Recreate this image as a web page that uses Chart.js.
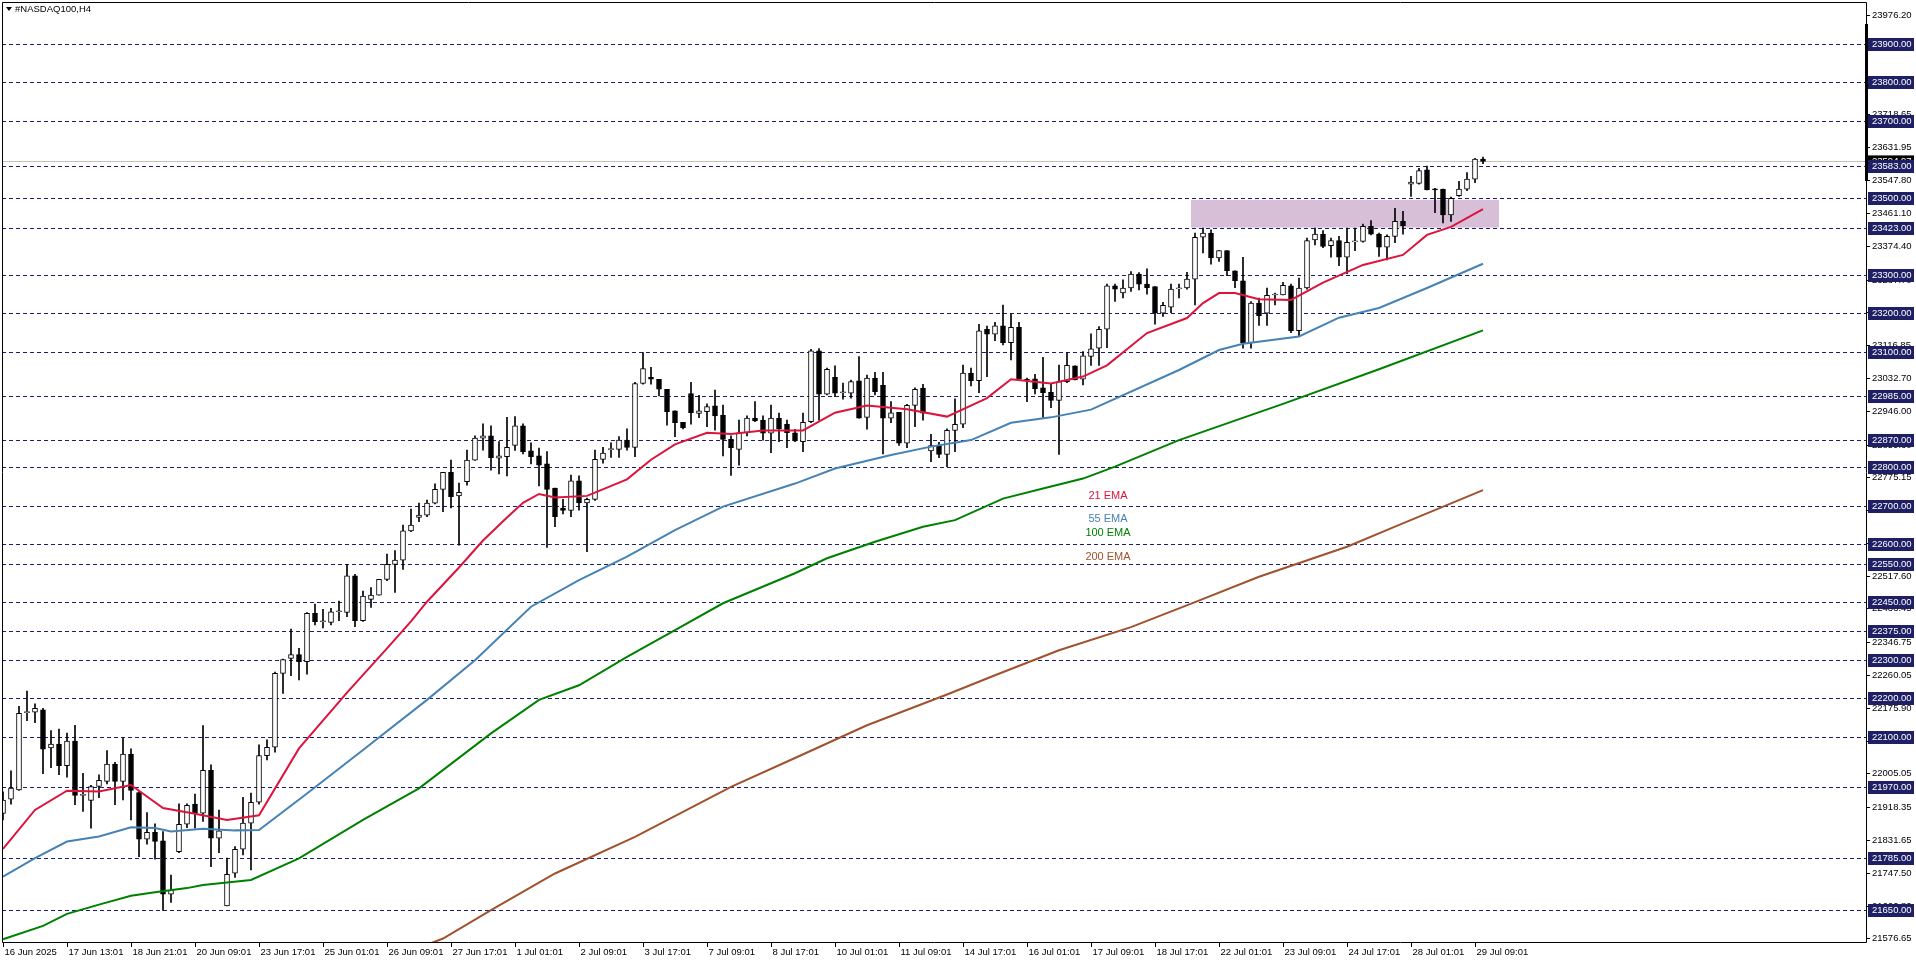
<!DOCTYPE html>
<html><head><meta charset="utf-8">
<script src="https://cdn.jsdelivr.net/npm/chart.js@4.4.1/dist/chart.umd.min.js"></script>
<style>html,body{margin:0;padding:0;background:#fff;overflow:hidden}canvas{display:block}</style>
</head><body>
<canvas id="c" width="1916" height="963" style="width:1916px;height:963px"></canvas>
<script>
// ---- DATA ----
const title = "#NASDAQ100,H4";
const tickLabels = ["16 Jun 2025","17 Jun 13:01","18 Jun 21:01","20 Jun 09:01","23 Jun 17:01","25 Jun 01:01","26 Jun 09:01","27 Jun 17:01","1 Jul 01:01","2 Jul 09:01","3 Jul 17:01","7 Jul 09:01","8 Jul 17:01","10 Jul 01:01","11 Jul 09:01","14 Jul 17:01","16 Jul 01:01","17 Jul 09:01","18 Jul 17:01","22 Jul 01:01","23 Jul 09:01","24 Jul 17:01","28 Jul 01:01","29 Jul 09:01"];
const barsPerLabel = 8;
const openP  = [21901,21938,21962,22163,22164,22170,22071,22081,22025,22089,21948,21935,21971,21984,22029,21984,22055,21955,21834,21852,21830,21691,21802,21873,21925,21902,22013,21837,21661,21746,21808,21876,21930,22051,22073,22265,22304,22314,22295,22421,22399,22397,22425,22423,22518,22402,22457,22468,22509,22548,22559,22635,22670,22676,22707,22743,22787,22726,22763,22819,22876,22882,22824,22828,22857,22908,22843,22830,22809,22746,22694,22688,22765,22708,22717,22821,22846,22847,22871,22852,23018,23034,23029,23003,22947,22917,22992,22940,22945,22960,22936,22873,22847,22890,22928,22923,22889,22928,22912,22890,22867,22919,23103,22990,23034,22994,22993,23025,22930,23032,23013,22928,22943,22863,22961,23006,22843,22857,22834,22896,22912,23045,23025,23159,23146,23168,23124,23164,23029,23030,23007,22995,22974,23023,23064,23029,23088,23110,23159,23272,23253,23266,23302,23276,23270,23201,23216,23264,23266,23289,23398,23409,23344,23363,23311,23285,23124,23227,23201,23248,23248,23272,23155,23266,23391,23406,23376,23389,23346,23386,23387,23426,23406,23372,23400,23439,23536,23538,23573,23523,23523,23456,23506,23523,23549,23601];
const highP  = [21957,22012,22179,22219,22186,22174,22116,22120,22110,22130,22005,21974,22001,22064,22034,22096,22069,21957,21903,21874,21854,21741,21926,21926,21951,22129,22027,21910,21785,21815,21943,21954,22079,22092,22268,22302,22380,22330,22423,22445,22431,22434,22453,22548,22522,22479,22488,22509,22575,22584,22650,22692,22707,22715,22757,22787,22819,22759,22845,22882,22913,22908,22867,22930,22932,22913,22864,22850,22841,22746,22717,22780,22778,22720,22845,22852,22864,22880,22900,23021,23098,23060,23029,23003,22947,22917,23021,22987,22965,23001,22962,22882,22923,22934,22971,22934,22962,22941,22923,22899,22941,23107,23109,23058,23064,23019,23027,23088,23040,23047,23047,22971,22943,22964,23007,23016,22886,22865,22900,22978,23066,23058,23172,23167,23177,23222,23198,23177,23032,23042,23086,23016,23066,23098,23064,23101,23147,23166,23276,23276,23287,23309,23306,23316,23270,23229,23276,23276,23307,23409,23422,23417,23363,23363,23311,23346,23231,23240,23266,23253,23281,23276,23292,23396,23422,23415,23396,23400,23422,23422,23432,23441,23409,23404,23473,23465,23556,23577,23583,23525,23523,23502,23543,23566,23603,23606];
const lowP   = [21884,21925,21961,22142,22137,22004,22020,22002,21995,21924,21906,21863,21942,21978,21924,21936,21884,21789,21821,21782,21649,21670,21799,21864,21863,21880,21763,21799,21661,21735,21793,21754,21925,22040,22060,22213,22259,22248,22263,22391,22383,22391,22402,22412,22386,22400,22436,22468,22506,22475,22535,22633,22659,22672,22705,22685,22695,22598,22754,22818,22845,22793,22783,22778,22844,22835,22809,22752,22592,22646,22679,22672,22689,22581,22714,22811,22826,22826,22845,22828,23016,23016,22986,22910,22880,22900,22912,22929,22906,22897,22830,22779,22806,22882,22919,22871,22838,22867,22851,22867,22841,22916,22923,22988,22984,22977,22980,22928,22899,22988,22835,22916,22857,22851,22906,22923,22815,22825,22802,22841,22903,23012,22994,23036,23129,23118,23079,23029,22971,22991,22930,22955,22834,23020,23027,23014,23065,23065,23111,23231,23240,23257,23261,23250,23172,23192,23202,23240,23263,23222,23357,23328,23335,23298,23267,23110,23110,23169,23169,23222,23248,23150,23140,23263,23378,23371,23346,23324,23303,23363,23385,23404,23348,23339,23384,23406,23504,23536,23521,23462,23435,23439,23504,23519,23540,23589];
const closeP = [21936,21967,22161,22163,22174,22068,22081,22025,22089,21948,21948,21971,21987,22029,21984,22055,21961,21834,21852,21828,21691,21701,21873,21922,21902,22013,21837,21856,21743,21808,21876,21930,22051,22073,22265,22301,22314,22295,22421,22399,22399,22425,22425,22518,22402,22466,22468,22509,22548,22559,22635,22650,22676,22707,22743,22787,22724,22735,22819,22876,22882,22825,22830,22852,22908,22841,22828,22806,22743,22672,22688,22765,22708,22717,22821,22837,22847,22871,22852,23018,23057,23029,23003,22945,22916,22903,22942,22947,22958,22934,22873,22851,22890,22928,22921,22889,22928,22900,22890,22869,22917,23103,22990,23055,22993,22995,23023,22928,23032,22997,22928,22942,22863,22961,23003,22941,22857,22834,22896,22912,23045,23025,23155,23146,23168,23124,23164,23029,23027,23004,22994,22974,23023,23065,23027,23090,23108,23159,23272,23263,23266,23302,23276,23267,23201,23221,23263,23266,23289,23398,23409,23344,23363,23311,23285,23124,23227,23194,23247,23249,23273,23155,23266,23389,23406,23374,23389,23346,23385,23387,23426,23406,23372,23400,23439,23428,23541,23571,23521,23521,23456,23499,23523,23549,23601,23595];
// EMA readings: [bar index, value]
const ema21  = [[0,21809],[4,21910],[8,21960],[12,21958],[16,21975],[20,21915],[24,21900],[28,21884],[32,21896],[37,22070],[43,22215],[48,22330],[51,22400],[53,22451],[57,22540],[60,22610],[63,22670],[65,22708],[67,22731],[69,22722],[73,22726],[78,22769],[81,22820],[84,22860],[88,22890],[91,22887],[95,22896],[100,22896],[104,22942],[108,22961],[113,22951],[118,22932],[123,22980],[126,23029],[131,23018],[135,23036],[138,23065],[143,23149],[148,23188],[150,23227],[152,23253],[154,23253],[157,23237],[161,23235],[165,23280],[170,23326],[175,23352],[178,23404],[181,23425],[185,23471]];
const ema55  = [[0,21737],[4,21785],[8,21828],[12,21841],[16,21865],[19,21863],[21,21854],[25,21861],[29,21857],[32,21858],[38,21953],[45,22066],[53,22196],[59,22299],[66,22438],[72,22507],[78,22568],[84,22637],[90,22698],[99,22758],[104,22797],[111,22832],[116,22854],[121,22871],[126,22916],[131,22930],[136,22950],[147,23053],[152,23105],[155,23121],[162,23140],[167,23189],[172,23214],[178,23266],[185,23329]];
const ema100 = [[0,21574],[5,21609],[8,21640],[12,21664],[16,21687],[19,21696],[23,21707],[25,21715],[31,21728],[37,21784],[45,21884],[52,21966],[61,22109],[67,22196],[72,22234],[78,22308],[84,22377],[90,22447],[99,22525],[103,22564],[109,22607],[115,22646],[119,22663],[125,22719],[130,22745],[135,22771],[139,22802],[147,22871],[160,22965],[172,23055],[185,23156]];
const ema200 = [[48,21520],[55,21576],[61,21650],[69,21745],[79,21840],[91,21970],[99,22045],[108,22130],[118,22210],[124,22260],[132,22325],[141,22385],[149,22450],[157,22516],[168,22594],[174,22646],[185,22741]];
const priceTicks = [23976.20,23889.50,23802.80,23718.65,23631.95,23547.80,23461.10,23374.40,23287.70,23203.55,23116.85,23032.70,22946.00,22859.30,22775.15,22688.45,22604.30,22517.60,22433.45,22346.75,22260.05,22175.90,22089.20,22005.05,21918.35,21831.65,21747.50,21660.80,21576.65];
const levels = [23900,23800,23700,23583,23500,23423,23300,23200,23100,22985,22870,22800,22700,22600,22550,22450,22375,22300,22200,22100,21970,21785,21650];
const currentPrice = 23594.97;
const zone = {from:149, top:23495, bottom:23423};
const emaNames = ["21 EMA","55 EMA","100 EMA","200 EMA"];
const emaColors = ["#dc143c","#4682b4","#008000","#a0522d"];

// ---- BUILD ----
const nBars = openP.length, nSlots = 234;
const labels = Array.from({length:nSlots},(_,i)=> i<nBars ? String(i) : "");
function fill(pairs){const a=new Array(nBars).fill(null);pairs.forEach(([i,v])=>a[i]=v);return a;}
const F = "'Liberation Sans', Arial, sans-serif";

const deco = {
  id:'deco',
  beforeDraw(ch){const c=ch.ctx;c.save();c.fillStyle='#fff';c.fillRect(0,0,ch.width,ch.height);c.restore();},
  beforeDatasetsDraw(ch){
    const c=ch.ctx,y=ch.scales.y,x=ch.scales.x;
    c.save();
    c.fillStyle='#d8bfd8';
    const zx=x.getPixelForValue(zone.from)-4;
    c.fillRect(zx,y.getPixelForValue(zone.top),1499-zx,y.getPixelForValue(zone.bottom)-y.getPixelForValue(zone.top));
    c.strokeStyle='#1c1c72';c.lineWidth=1;c.setLineDash([4,3]);
    levels.forEach(v=>{const py=Math.round(y.getPixelForValue(v))+0.5;c.beginPath();c.moveTo(2,py);c.lineTo(1866,py);c.stroke();});
    c.setLineDash([]);
    c.strokeStyle='#c0c0c0';
    const cp=Math.round(y.getPixelForValue(currentPrice))+0.5;
    c.beginPath();c.moveTo(2,cp);c.lineTo(1866,cp);c.stroke();
    c.restore();
  },
  afterDraw(ch){
    const c=ch.ctx,y=ch.scales.y,x=ch.scales.x;
    c.save();
    c.strokeStyle='#000';c.lineWidth=1;
    c.beginPath();c.moveTo(2.5,942.5);c.lineTo(2.5,2.5);c.lineTo(1866.5,2.5);c.lineTo(1866.5,942.5);c.lineTo(2.5,942.5);c.stroke();
    c.fillStyle='#000';c.font='9.5px '+F;c.textBaseline='middle';c.textAlign='left';
    priceTicks.forEach(v=>{const py=Math.round(y.getPixelForValue(v))+0.5;c.beginPath();c.moveTo(1866,py);c.lineTo(1870,py);c.stroke();c.fillText(v.toFixed(2),1872,py);});
    c.fillRect(1865,24,3,157);
    const cp=y.getPixelForValue(currentPrice);
    c.fillStyle='#000';c.fillRect(1868,cp-6,46,12);c.fillStyle='#fff';c.fillText(currentPrice.toFixed(2),1872,cp);
    levels.forEach(v=>{const py=Math.round(y.getPixelForValue(v));c.fillStyle='#1f1f66';c.fillRect(1868,py-6,46,13);c.fillStyle='#fff';c.fillText(v.toFixed(2),1872,py+0.5);});
    c.fillStyle='#000';c.font='9.5px '+F;
    tickLabels.forEach((t,k)=>{const px=Math.round(x.getPixelForValue(k*barsPerLabel))+0.5;c.beginPath();c.moveTo(px,942);c.lineTo(px,947);c.stroke();c.fillText(t,px+1,952);});
    c.font='11px '+F;c.textAlign='center';
    const ly=[496,519,533,557];
    emaNames.forEach((n,k)=>{c.fillStyle=emaColors[k];c.fillText(n,1108,ly[k]);});
    c.textAlign='left';c.fillStyle='#000';c.font='9.5px '+F;
    c.beginPath();c.moveTo(6,7);c.lineTo(12,7);c.lineTo(9,11);c.closePath();c.fill();
    c.fillText(title,15,9);
    c.restore();
  }
};

new Chart(document.getElementById('c'),{
  data:{labels,datasets:[
    ...[ema21,ema55,ema100,ema200].map((e,k)=>({type:'line',data:fill(e),borderColor:emaColors[k],borderWidth:2,pointRadius:0,spanGaps:true,tension:0,order:0})),
    {type:'bar',data:openP.map((o,i)=>[o,closeP[i]]),backgroundColor:openP.map((o,i)=>closeP[i]>=o?'#fff':'#000'),borderColor:'#000',borderWidth:1,borderSkipped:false,barThickness:5,minBarLength:1,grouped:false,order:1},
    {type:'bar',data:lowP.map((l,i)=>[l,highP[i]]),backgroundColor:'#000',barThickness:1,grouped:false,order:2}
  ]},
  options:{responsive:false,animation:false,devicePixelRatio:1,
    layout:{padding:{left:3,right:49,top:3,bottom:21}},
    plugins:{legend:{display:false},tooltip:{enabled:false}},
    scales:{x:{type:'category',offset:false,display:false},
            y:{type:'linear',min:21567,max:24006.5,display:false}}},
  plugins:[deco]
});
</script></body></html>
